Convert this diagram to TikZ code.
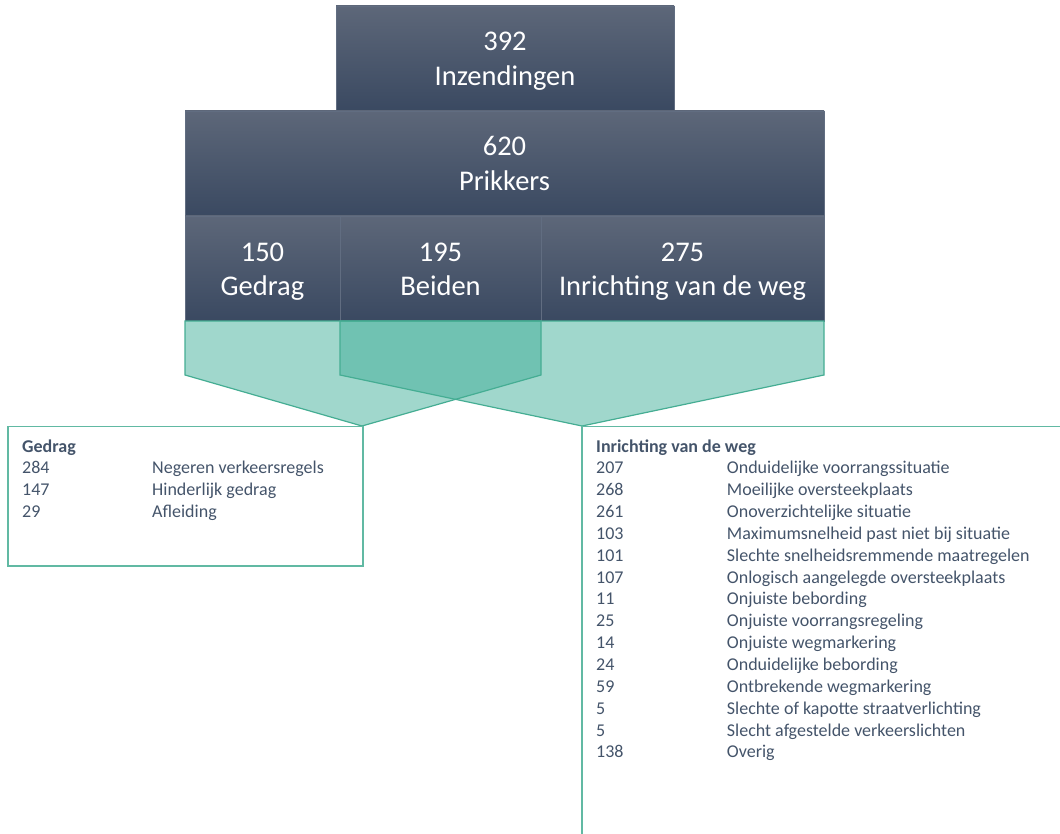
\documentclass[tikz,border=0pt]{standalone}
\usepackage{fontspec}
\setmainfont{Carlito}
\definecolor{boxtop}{HTML}{5D6779}
\definecolor{boxbot}{HTML}{3A4961}
\definecolor{tealline}{HTML}{45AD93}
\definecolor{tealfill}{HTML}{A0D7CC}
\definecolor{tealdark}{HTML}{70C2B2}
\definecolor{listtext}{HTML}{44546A}
\begin{document}
\begin{tikzpicture}[x=1pt,y=-1pt,
  darkbox/.style={draw=boxbot!80!white, line width=0.6pt, top color=boxtop, bottom color=boxbot,
    inner sep=0pt, outer sep=0pt},
  boxtxt/.style={text=white, font=\fontsize{28.5}{35}\selectfont, align=center, inner sep=0pt, yshift=-3pt},
  funnel/.style={fill=tealfill},
  funnelline/.style={draw=tealline, line width=1.2pt, line join=miter},
  listbox/.style={draw=tealline!85!white, line width=1.4pt},
  listtxt/.style={text=listtext, font=\fontsize{18}{21.85}\selectfont, inner sep=0pt, anchor=base west}
]
\useasboundingbox (0,0) rectangle (1060,834);

% dark boxes
\node[darkbox, minimum width=338pt, minimum height=105pt] (inz) at (505,58.5) {};
\node[darkbox, minimum width=639pt, minimum height=105pt] (prik) at (504.5,163.5) {};
\node[darkbox, minimum width=155pt, minimum height=105pt] (ged) at (262.5,268.5) {};
\node[darkbox, minimum width=201pt, minimum height=105pt] (bei) at (440.5,268.5) {};
\node[darkbox, minimum width=283pt, minimum height=105pt] (inr) at (682.5,268.5) {};
\node[boxtxt] (inztxt) at (inz.center) {392\strut\\Inzendingen\strut};
\node[boxtxt] (priktxt) at (prik.center) {620\strut\\Prikkers\strut};
\node[boxtxt] (gedtxt) at (ged.center) {150\strut\\Gedrag\strut};
\node[boxtxt] (beitxt) at (bei.center) {195\strut\\Beiden\strut};
\node[boxtxt] (inrtxt) at (inr.center) {275\strut\\Inrichting van de weg\strut};

% funnel corner coordinates
\coordinate (la) at (185,321);
\coordinate (lb) at (541,321);
\coordinate (lc) at (541,375);
\coordinate (lp) at (362,426);
\coordinate (ld) at (185,375);
\coordinate (ra) at (340,321);
\coordinate (rb) at (824,321);
\coordinate (rc) at (824,375);
\coordinate (rp) at (582,426);
\coordinate (rd) at (340,375);

\fill[funnel] (la) -- (lb) -- (lc) -- (lp) -- (ld) -- cycle;
\fill[funnel] (ra) -- (rb) -- (rc) -- (rp) -- (rd) -- cycle;
\begin{scope}
  \clip (la) -- (lb) -- (lc) -- (lp) -- (ld) -- cycle;
  \fill[tealdark] (ra) -- (rb) -- (rc) -- (rp) -- (rd) -- cycle;
\end{scope}
\draw[funnelline] (la) -- (lb) -- (lc) -- (lp) -- (ld) -- cycle;
\draw[funnelline] (ra) -- (rb) -- (rc) -- (rp) -- (rd) -- cycle;

% list boxes
\draw[listbox] (8,426.5) rectangle (363,566);
\coordinate (rboxend) at (1062,426.5);
\coordinate (rboxbot) at (582,836);
\draw[listbox] (rboxend) -- (582,426.5) -- (rboxbot);

\node[listtxt] (glist) at (22,452) {\begin{tabular}[t]{@{}p{130pt}@{}l@{}}
\multicolumn{2}{@{}l@{}}{\textbf{Gedrag}}\\
284 & Negeren verkeersregels\\
147 & Hinderlijk gedrag\\
29 & Afleiding
\end{tabular}};

\node[listtxt] (ilist) at (596,452) {\begin{tabular}[t]{@{}p{130.7pt}@{}l@{}}
\multicolumn{2}{@{}l@{}}{\textbf{Inrichting van de weg}}\\
207 & Onduidelijke voorrangssituatie\\
268 & Moeilijke oversteekplaats\\
261 & Onoverzichtelijke situatie\\
103 & Maximumsnelheid past niet bij situatie\\
101 & Slechte snelheidsremmende maatregelen\\
107 & Onlogisch aangelegde oversteekplaats\\
11 & Onjuiste bebording\\
25 & Onjuiste voorrangsregeling\\
14 & Onjuiste wegmarkering\\
24 & Onduidelijke bebording\\
59 & Ontbrekende wegmarkering\\
5 & Slechte of kapotte straatverlichting\\
5 & Slecht afgestelde verkeerslichten\\
138 & Overig
\end{tabular}};
\end{tikzpicture}
\end{document}
